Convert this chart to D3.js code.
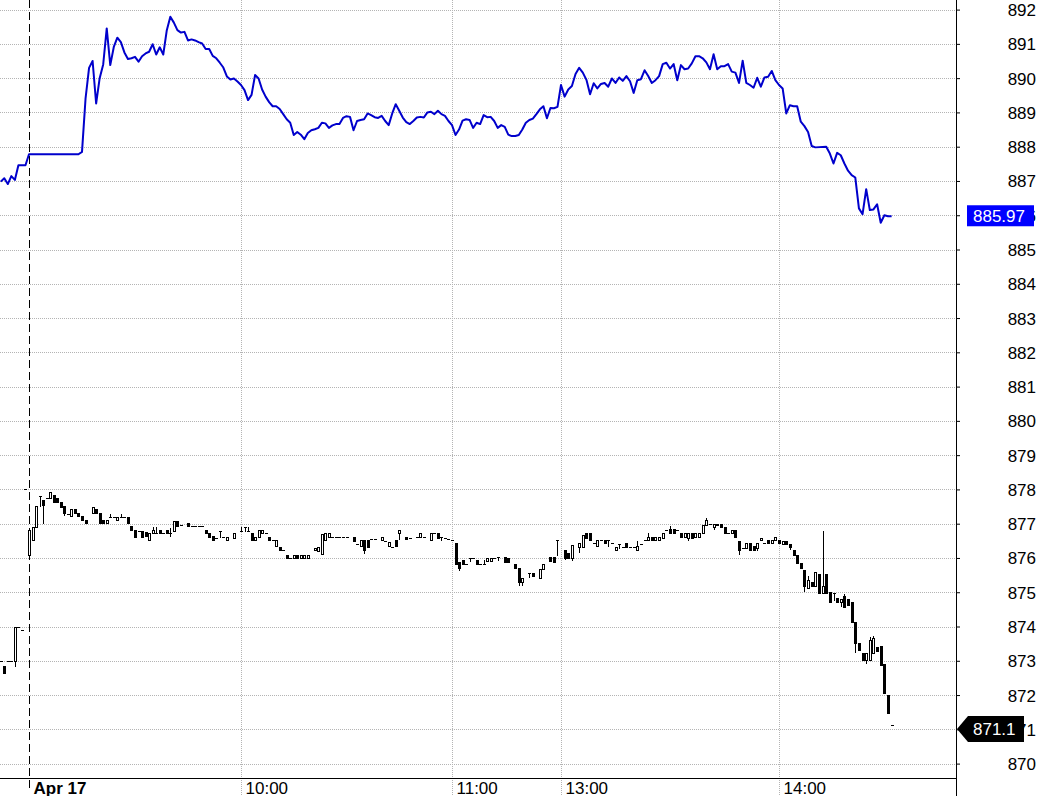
<!DOCTYPE html>
<html>
<head>
<meta charset="utf-8">
<script src="https://cdn.jsdelivr.net/npm/d3@7"></script>
<style>
  body { margin: 0; background: #fff; }
  .chart text { font-family: "Liberation Sans", Arial, sans-serif; }
</style>
</head>
<body>
<div class="chart"></div>
<script>
// bar = trading minute since the 9:00 open (afternoon continues at 151 = 13:00), negatives = previous day
var tickBars = [0, 60, 120, 151, 211];
var tickLabels = ["Apr 17", "10:00", "11:00", "13:00", "14:00"];
var priceTicks = d3.range(870, 893);

// blue index line [bar, value]
var indexLine = [
  [-8,886.98],[-7,887.08],[-6,886.91],[-5,887.14],[-4,887.03],[-3,887.46],[-1,887.46],[0,887.78],[14,887.78],[15,887.85],
  [16,889.40],[17,890.30],[18,890.50],[19,889.26],[20,890.00],[21,890.40],[22,891.45],[23,890.38],[24,890.91],[25,891.18],
  [26,891.05],[27,890.75],[28,890.56],[29,890.58],[30,890.62],[31,890.48],[32,890.64],[33,890.72],[34,890.77],[35,890.99],
  [36,890.69],[37,890.90],[38,890.69],[39,891.40],[40,891.79],[41,891.62],[42,891.40],[43,891.33],[44,891.35],[45,891.10],
  [46,891.13],[47,891.10],[48,891.05],[49,891.01],[50,890.85],[51,890.85],[52,890.65],[53,890.58],[54,890.45],[55,890.31],
  [56,890.05],[57,889.96],[58,889.99],[59,889.90],[60,889.80],[61,889.65],[62,889.36],[63,889.51],[64,890.09],[65,889.99],
  [66,889.67],[67,889.46],[68,889.30],[69,889.18],[70,889.18],[71,889.10],[72,888.95],[73,888.80],[74,888.70],[75,888.34],
  [76,888.43],[77,888.35],[78,888.22],[79,888.40],[80,888.48],[81,888.51],[82,888.55],[83,888.70],[84,888.68],[85,888.55],
  [86,888.62],[87,888.66],[88,888.66],[89,888.84],[90,888.89],[91,888.87],[92,888.48],[93,888.75],[94,888.78],[95,888.80],
  [96,888.97],[97,888.92],[98,888.86],[99,888.84],[100,888.90],[101,888.75],[102,888.63],[103,888.97],[104,889.24],[105,889.05],
  [106,888.85],[107,888.72],[108,888.66],[109,888.75],[110,888.85],[111,888.87],[112,888.85],[113,889.00],[114,889.02],[115,888.95],
  [116,889.05],[117,888.95],[118,888.90],[119,888.75],[120,888.63],[121,888.34],[122,888.50],[123,888.76],[124,888.80],[125,888.78],
  [126,888.55],[127,888.70],[128,888.66],[129,888.92],[130,888.86],[131,888.87],[132,888.75],[133,888.55],[134,888.63],[135,888.58],
  [136,888.35],[137,888.31],[138,888.31],[139,888.34],[140,888.50],[141,888.70],[142,888.78],[143,888.82],[144,888.95],[145,889.09],
  [146,889.18],[147,888.83],[148,889.13],[149,889.12],[150,889.16],[151,889.80],[152,889.46],[153,889.67],[154,889.77],[155,890.12],
  [156,890.30],[157,890.16],[158,889.95],[159,889.53],[160,889.85],[161,889.70],[162,889.83],[163,889.86],[164,889.75],[165,889.99],
  [166,889.86],[167,890.02],[168,889.92],[169,890.06],[170,889.91],[171,889.57],[172,889.94],[173,889.97],[174,890.23],[175,890.06],
  [176,889.86],[177,889.94],[178,890.06],[179,890.41],[180,890.45],[181,890.28],[182,890.41],[183,889.94],[184,890.38],[185,890.26],
  [186,890.28],[187,890.43],[188,890.64],[189,890.64],[190,890.58],[191,890.46],[192,890.26],[193,890.70],[194,890.26],[195,890.35],
  [196,890.35],[197,890.41],[198,890.19],[199,890.16],[200,889.86],[201,890.51],[202,889.86],[203,889.80],[204,889.72],[205,890.01],
  [206,889.75],[207,890.02],[208,890.04],[209,890.21],[210,889.94],[211,889.80],[212,889.70],[213,888.97],[214,889.21],[215,889.18],
  [216,889.18],[217,888.73],[218,888.60],[219,888.43],[220,888.02],[221,887.98],[224,888.00],[225,887.80],[226,887.51],[227,887.82],
  [228,887.75],[229,887.51],[230,887.30],[231,887.17],[232,887.10],[233,886.20],[234,886.03],[235,886.76],[236,886.15],[237,886.17],
  [238,886.32],[239,885.78],[240,886.00],[241,885.97],[242,885.97]
];

// futures candles [bar, open, high, low, close]; [bar, price] = flat bar
var candles = [
  [-8,873.00],[-7,872.84,872.84,872.63,872.63],[-6,873.00],[-5,873.00],[-4,873.00,874.00,872.84,874.00],[-3,874.00],[-2,873.90],[-1,878.00],
  [0,876.10,876.81,876.05,876.81],[1,876.52,876.91,876.52,876.91],[2,876.91,877.51,876.91,877.51],[3,877.80,877.80,877.51,877.80],
  [4,877.69,877.69,877.02,877.55],[5,877.75],[6,877.74,877.92,877.74,877.92],[7,877.83,877.83,877.62,877.62],[8,877.75,877.75,877.62,877.62],
  [9,877.62,877.62,877.49,877.49],[10,877.52,877.52,877.25,877.32],[11,877.27],[12,877.21,877.42,877.21,877.42],[13,877.42,877.42,877.30,877.30],
  [14,877.32,877.32,877.22,877.22],[15,877.22,877.22,877.11,877.11],[16,877.11,877.11,877.01,877.01],[18,877.32,877.49,877.32,877.49],
  [19,877.42,877.42,877.30,877.30],[20,877.32,877.32,877.01,877.01],[21,877.11,877.11,877.01,877.01],[22,877.03,877.11,877.03,877.11],
  [23,877.20,877.28,877.20,877.20],[24,877.20],[25,877.11,877.20,877.11,877.20],[26,877.20,877.28,877.20,877.20],[27,877.20],
  [28,877.20,877.20,877.01,877.01],[29,876.92,876.92,876.81,876.81],[30,876.81,876.81,876.62,876.62],[31,876.79],
  [32,876.79,876.79,876.62,876.62],[33,876.75,876.75,876.65,876.65],[34,876.52,876.72,876.52,876.72],[35,876.73,876.89,876.73,876.81],
  [36,876.73,876.89,876.73,876.73],[37,876.81,876.81,876.72,876.72],[38,876.73],[39,876.81,876.81,876.72,876.72],[40,876.73,876.86,876.64,876.73],
  [41,876.78,877.08,876.78,877.08],[42,877.08,877.08,876.93,876.93],[43,876.96],[45,877.03,877.03,876.93,876.93],
  [46,876.93],[47,876.93],[48,876.93],[49,876.93],[50,876.81,876.81,876.72,876.72],[51,876.73,876.73,876.60,876.60],[52,876.65,876.65,876.52,876.52],
  [53,876.57],[54,876.79,876.79,876.62,876.79],[55,876.62],[56,876.52,876.60,876.52,876.60],[58,876.57,876.73,876.57,876.73],
  [60,876.79,876.89,876.79,876.79],[61,876.89,876.89,876.79,876.89],[62,876.79,876.89,876.79,876.79],[63,876.73,876.73,876.52,876.52],
  [64,876.52,876.62,876.52,876.62],[65,876.62,876.81,876.62,876.81],[66,876.72,876.81,876.72,876.81],[67,876.72],[68,876.62,876.62,876.52,876.52],
  [69,876.52],[70,876.36,876.52,876.36,876.52],[71,876.33,876.33,876.23,876.23],[72,876.23],[73,876.10,876.10,876.01,876.01],[74,876.01],
  [75,876.01,876.10,876.01,876.10],[76,876.10,876.10,876.01,876.01],[77,876.01,876.10,876.01,876.10],[78,876.01,876.10,876.01,876.10],
  [79,876.01,876.10,876.01,876.10],[81,876.23,876.30,876.23,876.30],[82,876.20,876.33,876.20,876.33],[83,876.12,876.70,876.12,876.70],
  [84,876.52,876.73,876.52,876.73],[85,876.62,876.73,876.62,876.73],[86,876.60],[87,876.60],[88,876.60],[89,876.60],[90,876.60],
  [92,876.60,876.60,876.50,876.50],[93,876.42],[94,876.36,876.52,876.36,876.52],[95,876.52,876.52,876.15,876.23],[96,876.52,876.52,876.33,876.33],
  [97,876.55],[98,876.55],[100,876.52,876.62,876.52,876.62],[101,876.50],[102,876.36,876.48,876.36,876.48],[103,876.33],
  [104,876.52,876.52,876.36,876.36],[105,876.72,876.81,876.55,876.81],[107,876.62,876.62,876.55,876.55],[108,876.58],[110,876.60],
  [111,876.60,876.72,876.60,876.72],[112,876.60],[114,876.52,876.72,876.52,876.72],[115,876.72],[116,876.72,876.72,876.57,876.57],
  [117,876.60,876.60,876.52,876.60],[118,876.58],[119,876.55],[120,876.52],
  [121,876.43,876.43,875.82,875.82],[122,875.89,875.89,875.65,875.70],[123,875.95,875.95,875.82,875.82],[124,875.82],
  [125,876.00,876.00,875.90,876.00],[126,876.00],[127,875.95,875.95,875.82,875.82],[128,875.82],[129,875.82,875.95,875.82,875.82],
  [130,875.90,876.00,875.90,876.00],[131,875.90,876.00,875.90,876.00],[132,875.99],[133,876.03,876.03,875.95,876.03],
  [135,876.03,876.03,875.88,875.88],[136,876.00,876.00,875.88,875.88],[138,875.82,875.82,875.70,875.70],[139,875.70,875.70,875.20,875.30],
  [140,875.30,875.42,875.20,875.42],[142,875.57,875.57,875.45,875.57],[143,875.57,875.57,875.48,875.48],[145,875.42,875.67,875.42,875.67],
  [146,875.67,875.82,875.67,875.82],[148,876.03,876.03,875.90,875.90],[149,876.03,876.03,875.88,875.88],[150,876.52,876.52,876.10,876.52],
  [152,876.23,876.23,875.98,876.00],[153,876.15,876.15,876.00,876.00],[154,876.00,876.39,875.95,876.39],[156,876.33,876.43,876.18,876.43],
  [157,876.33,876.66,876.33,876.66],[158,876.72,876.72,876.57,876.57],[159,876.72,876.72,876.52,876.52],[160,876.45],
  [161,876.36,876.52,876.36,876.52],[162,876.52],[163,876.52,876.52,876.43,876.43],[164,876.52,876.52,876.36,876.52],[165,876.45],
  [166,876.23,876.33,876.23,876.33],[167,876.40,876.40,876.30,876.40],[168,876.33],[169,876.43,876.43,876.33,876.33],[170,876.33],[171,876.33],
  [172,876.23,876.50,876.23,876.36],[173,876.42],[174,876.52],[175,876.52,876.72,876.52,876.62],[176,876.62,876.62,876.52,876.52],
  [177,876.52,876.62,876.52,876.62],[178,876.52,876.62,876.52,876.62],[179,876.57,876.72,876.57,876.72],[180,876.81],
  [181,876.84,876.92,876.72,876.72],[182,876.84,876.84,876.72,876.72],[183,876.81],[184,876.72,876.72,876.60,876.60],
  [185,876.60,876.72,876.60,876.72],[186,876.57,876.72,876.52,876.72],[187,876.72,876.72,876.57,876.57],[188,876.60,876.72,876.60,876.72],
  [189,876.60,876.72,876.60,876.72],[190,876.72,876.95,876.72,876.95],[191,876.95,877.18,876.95,877.11],[192,877.00],
  [193,876.90,877.00,876.85,877.00],[194,877.00,877.00,876.95,876.95],[195,877.00,877.00,876.90,876.90],[196,876.90,876.90,876.72,876.72],
  [197,876.72],[198,876.72,876.81,876.72,876.81],[199,876.81,876.81,876.60,876.60],[200,876.50,876.50,876.13,876.23],[201,876.30],
  [202,876.30,876.43,876.30,876.43],[203,876.43,876.43,876.23,876.23],[204,876.36,876.36,876.23,876.23],[205,876.30,876.43,876.23,876.43],
  [206,876.52,876.57,876.52,876.57],[207,876.43],[208,876.52,876.52,876.43,876.43],[209,876.43,876.52,876.43,876.52],[210,876.52,876.60,876.52,876.60],
  [211,876.52,876.52,876.43,876.43],[212,876.40,876.50,876.40,876.50],[213,876.50,876.50,876.40,876.40],[214,876.40,876.40,876.25,876.32],
  [215,876.23,876.23,876.10,876.10],[216,876.10,876.10,875.84,875.84],[217,875.84,875.84,875.70,875.70],[218,875.64,875.64,875.03,875.19],
  [219,875.11,875.48,875.11,875.37],[220,875.30,875.30,875.19,875.19],[221,875.19,875.60,875.19,875.60],[222,875.54,875.54,874.97,874.97],
  [223,874.97,876.78,874.97,875.19],[224,875.54,875.54,874.97,874.97],[225,875.00,875.00,874.72,874.72],[226,874.97,874.97,874.78,874.97],
  [227,874.84,874.84,874.72,874.72],[228,874.72,874.81,874.60,874.81],[229,874.88,874.95,874.56,874.56],[230,874.81,874.81,874.63,874.63],
  [231,874.72,874.72,874.14,874.14],[232,874.14,874.14,873.25,873.51],[233,873.52,873.52,873.31,873.31],[234,873.23,873.23,873.02,873.02],
  [235,873.02,873.23,872.93,873.23],[236,873.02,873.70,873.02,873.60],[237,873.23,873.73,873.23,873.66],[238,873.40,873.40,873.30,873.30],
  [239,873.44,873.44,872.88,872.88],[240,872.90,872.90,872.05,872.05],[241,872.00,872.00,871.48,871.48],[242,871.13]
];

var lastIndex = 885.97;
var lastFuture = 871.1;

var svgWidth = 1042;
var svgHeight = 796;
var width = 956;   // price axis sits here
var height = 778;  // time axis sits here

var svg = d3.select(".chart")
  .append("svg")
  .attr("width", svgWidth)
  .attr("height", svgHeight)
  .style("display", "block");

// piecewise time scale: the lunch break is squeezed out
var x = d3.scaleLinear().domain(tickBars).range([29, 241, 452, 561, 779]);
var y = d3.scaleLinear().domain([869.58, 892.28]).range([height, 0]);

var px = function(v) { return Math.round(v) + 0.5; };

// grid
svg.append("g")
  .selectAll("line")
  .data(priceTicks)
  .enter()
  .append("line")
  .attr("x1", 0)
  .attr("x2", width)
  .attr("y1", function(d) { return px(y(d)); })
  .attr("y2", function(d) { return px(y(d)); })
  .attr("stroke", "#b4b4b4")
  .attr("stroke-dasharray", "1,1");

svg.append("g")
  .selectAll("line")
  .data(tickBars.slice(1))
  .enter()
  .append("line")
  .attr("x1", function(d) { return px(x(d)); })
  .attr("x2", function(d) { return px(x(d)); })
  .attr("y1", 0)
  .attr("y2", svgHeight)
  .attr("stroke", "#b4b4b4")
  .attr("stroke-dasharray", "1,1");

// session start
svg.append("line")
  .attr("x1", px(x(tickBars[0])))
  .attr("x2", px(x(tickBars[0])))
  .attr("y1", 0)
  .attr("y2", 790)
  .attr("stroke", "#000")
  .attr("stroke-dasharray", "8,4");

// index line
var line = d3.line()
  .x(function(d) { return x(d[0]); })
  .y(function(d) { return y(d[1]); });

svg.append("path")
  .datum(indexLine)
  .attr("d", line)
  .attr("fill", "none")
  .attr("stroke", "#0000cc")
  .attr("stroke-width", 2)
  .attr("stroke-linejoin", "round");

// candles
var bars = candles.map(function(c) {
  if (c.length === 2) return { bar: c[0], o: c[1], h: c[1], l: c[1], c: c[1] };
  return { bar: c[0], o: c[1], h: c[2], l: c[3], c: c[4] };
});

var cg = svg.append("g").attr("shape-rendering", "crispEdges");

bars.forEach(function(d) {
  var cx = Math.round(x(d.bar));
  var top = Math.round(y(Math.max(d.o, d.c)));
  var bot = Math.round(y(Math.min(d.o, d.c)));
  if (d.h > d.l) {
    cg.append("line")
      .attr("x1", cx + 0.5).attr("x2", cx + 0.5)
      .attr("y1", Math.round(y(d.h))).attr("y2", Math.round(y(d.l)) + 1)
      .attr("stroke", "#000");
  }
  if (bot - top < 1) {
    cg.append("line")
      .attr("x1", cx - 1).attr("x2", cx + 2)
      .attr("y1", top + 0.5).attr("y2", top + 0.5)
      .attr("stroke", "#000");
  } else if (d.c > d.o) {
    cg.append("rect")
      .attr("x", cx - 0.5).attr("y", top + 0.5)
      .attr("width", 2).attr("height", bot - top)
      .attr("fill", "#fff").attr("stroke", "#000");
  } else {
    cg.append("rect")
      .attr("x", cx - 1).attr("y", top)
      .attr("width", 3).attr("height", bot - top + 1)
      .attr("fill", "#000");
  }
});

// time axis
var xAxis = svg.append("g")
  .attr("transform", "translate(0," + height + ")")
  .call(d3.axisBottom(x).tickValues(tickBars).tickSize(0).tickSizeOuter(0)
    .tickFormat(function(d, i) { return tickLabels[i]; }));
xAxis.select(".domain").remove();
xAxis.selectAll("text")
  .attr("text-anchor", "start")
  .attr("x", 4)
  .attr("y", 16)
  .attr("dy", null)
  .attr("fill", "#000")
  .style("font-size", "17px")
  .style("font-weight", function(d, i) { return i === 0 ? "bold" : "normal"; });

svg.append("line")
  .attr("x1", 0).attr("x2", width)
  .attr("y1", height + 0.5).attr("y2", height + 0.5)
  .attr("stroke", "#000");

// price axis
var yAxis = svg.append("g")
  .attr("transform", "translate(" + width + ",0)")
  .call(d3.axisRight(y).tickValues(priceTicks).tickSize(4).tickSizeOuter(0).tickFormat(d3.format("d")));
yAxis.select(".domain").remove();
yAxis.selectAll(".tick line").attr("stroke", "#000");
yAxis.selectAll("text")
  .attr("text-anchor", "end")
  .attr("x", 80)
  .attr("dy", "0.35em")
  .attr("fill", "#000")
  .style("font-size", "17px");

svg.append("line")
  .attr("x1", width + 0.5).attr("x2", width + 0.5)
  .attr("y1", 0).attr("y2", svgHeight)
  .attr("stroke", "#000");

// last value tags
var iy = y(lastIndex);
svg.append("rect")
  .attr("x", width + 11).attr("y", iy - 11)
  .attr("width", 67).attr("height", 21)
  .attr("fill", "#0000ff");
svg.append("text")
  .attr("x", width + 17).attr("y", iy)
  .attr("dy", "0.36em")
  .attr("fill", "#fff")
  .style("font-size", "17px")
  .text(d3.format(".2f")(lastIndex));

var fy = y(lastFuture) + 3;
svg.append("path")
  .attr("d", d3.line()([[width + 1, fy], [width + 12, fy - 13], [width + 68, fy - 13], [width + 68, fy + 13], [width + 12, fy + 13]]))
  .attr("fill", "#000");
svg.append("text")
  .attr("x", width + 17).attr("y", fy)
  .attr("dy", "0.36em")
  .attr("fill", "#fff")
  .style("font-size", "17px")
  .text(d3.format(".1f")(lastFuture));
</script>
</body>
</html>
